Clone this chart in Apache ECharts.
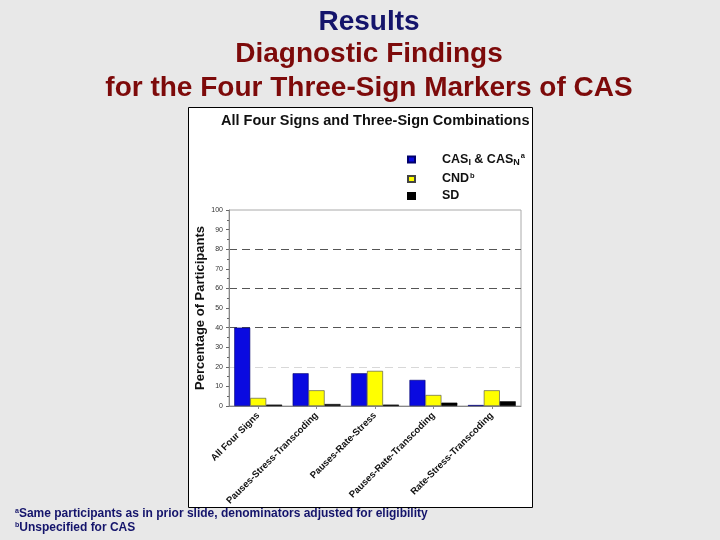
<!DOCTYPE html>
<html>
<head>
<meta charset="utf-8">
<script src="https://cdn.jsdelivr.net/npm/echarts@6/dist/echarts.min.js"></script>
<style>
html,body{margin:0;padding:0;background:#e8e8e8;}
#chart{width:720px;height:540px;}
</style>
</head>
<body>
<div id="chart"></div>
<script>
const categories = ['All Four Signs','Pauses-Stress-Transcoding','Pauses-Rate-Stress','Pauses-Rate-Transcoding','Rate-Stress-Transcoding'];
const seriesNames = ['CAS_I & CAS_N','CND','SD'];
const casValues = [40, 16.7, 16.7, 13.3, 0.5];
const cndValues = [4.1, 8, 17.9, 5.6, 8];
const sdValues = [0.7, 1, 0.7, 1.7, 2.4];
const yMin = 0, yMax = 100, yInterval = 10;

const F = 'Liberation Sans, Arial, sans-serif';
const chart = echarts.init(document.getElementById('chart'));

const legendRich = {
  b:{fontFamily:F,fontWeight:'bold',fontSize:12.5,color:'#111',padding:[0,0,0,22]},
  t:{fontFamily:F,fontWeight:'bold',fontSize:12.5,color:'#111'},
  sub:{fontFamily:F,fontWeight:'bold',fontSize:9,color:'#111',padding:[7,0,0,0]},
  sup:{fontFamily:F,fontWeight:'bold',fontSize:7.5,color:'#111',padding:[0,0,7,1]}
};
const legendFmt = {
  'CAS_I & CAS_N':'{b|CAS}{sub|I}{t| & CAS}{sub|N}{sup|a}',
  'CND':'{b|CND}{sup|b}',
  'SD':'{b|SD}'
};

const gridColors = ['transparent','transparent','#d8d8d8','transparent','#555','transparent','#555','transparent','#555','transparent','transparent'];

const titleStyle = (t, y, color) => ({type:'text',x:369,y:y,style:{text:t,textAlign:'center',textVerticalAlign:'middle',font:'bold 28px ' + F,fill:color}});

const option = {
  backgroundColor:'#e8e8e8',
  animation:false,
  title:[
    {text:'All Four Signs and Three-Sign Combinations',left:216,top:108,textStyle:{fontFamily:F,fontWeight:'bold',fontSize:14.5,color:'#111'}}
  ],
  graphic:[
    {type:'rect',z:-1,shape:{x:188.5,y:107.5,width:344,height:400},style:{fill:'#fff',stroke:'#000',lineWidth:1}},
    titleStyle('Results',22,'#14146b'),
    titleStyle('Diagnostic Findings',54,'#7d0a0a'),
    titleStyle('for the Four Three-Sign Markers of CAS',88,'#7d0a0a'),
    {type:'text',left:15,top:508,style:{rich:{s:{fontFamily:F,fontWeight:'bold',fontSize:7,fill:'#14146b',padding:[0,0,5,0]},t:{fontFamily:F,fontWeight:'bold',fontSize:12,fill:'#14146b'}},text:'{s|a}{t|Same participants as in prior slide, denominators adjusted for eligibility}'}},
    {type:'text',left:15,top:522,style:{rich:{s:{fontFamily:F,fontWeight:'bold',fontSize:7,fill:'#14146b',padding:[0,0,5,0]},t:{fontFamily:F,fontWeight:'bold',fontSize:12,fill:'#14146b'}},text:'{s|b}{t|Unspecified for CAS}'}}
  ],
  legend:{
    orient:'vertical',left:402,top:147,itemWidth:7,itemHeight:6,itemGap:4,
    icon:'rect',
    data:seriesNames,
    formatter:n=>legendFmt[n],
    textStyle:{rich:legendRich}
  },
  grid:{left:229,top:210,width:292,height:196,show:true,borderColor:'#aaa',borderWidth:1,backgroundColor:'transparent'},
  xAxis:{
    type:'category',data:categories,
    axisLine:{lineStyle:{color:'#888'}},
    axisTick:{show:true,alignWithLabel:true,length:3,lineStyle:{color:'#888'}},
    axisLabel:{rotate:45,interval:0,fontFamily:F,fontWeight:'bold',fontSize:9.5,color:'#111',margin:8}
  },
  yAxis:{
    type:'value',min:yMin,max:yMax,interval:yInterval,
    name:'Percentage of Participants',nameLocation:'middle',nameRotate:90,nameGap:22,
    nameTextStyle:{fontFamily:F,fontWeight:'bold',fontSize:13,color:'#111'},
    axisLine:{show:true,lineStyle:{color:'#888'}},
    axisTick:{show:true,length:3,lineStyle:{color:'#666'}},
    minorTick:{show:true,splitNumber:2,length:2,lineStyle:{color:'#666'}},
    axisLabel:{fontFamily:F,fontSize:7,color:'#333',margin:6},
    splitLine:{show:true,lineStyle:{type:[8,5],width:1,color:gridColors}}
  },
  series:[
    {name:seriesNames[0],type:'bar',data:casValues,barGap:'0%',barCategoryGap:'18%',itemStyle:{color:'#0a0ae0',borderColor:'#00006a',borderWidth:0.6}},
    {name:seriesNames[1],type:'bar',data:cndValues,itemStyle:{color:'#ffff00',borderColor:'#444',borderWidth:0.6}},
    {name:seriesNames[2],type:'bar',data:sdValues,itemStyle:{color:'#000',borderColor:'#000',borderWidth:0.6}}
  ]
};
chart.setOption(option);
</script>
</body>
</html>
